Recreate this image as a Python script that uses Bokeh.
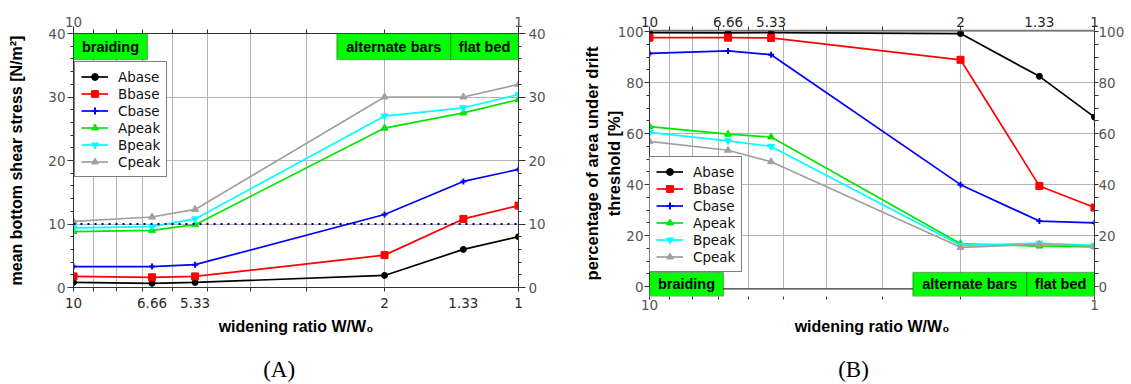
from bokeh.plotting import figure
from bokeh.models import (Range1d, LogAxis, LinearAxis, FixedTicker, Label, Span,
                          BoxAnnotation)
from bokeh.layouts import row
from bokeh.embed import file_html
from bokeh.resources import INLINE

# ---------------- data ----------------
ratio = [10, 6.66, 5.33, 2, 1.33, 1]
tick_values = [10, 6.66, 5.33, 2, 1.33, 1]
tick_labels = ["10", "6.66", "5.33", "2", "1.33", "1"]
end_ticks = [10, 1]
end_labels = ["10", "1"]
log_minor = [1, 2, 3, 4, 5, 6, 7, 8, 9, 10]
log_grid = [2, 3, 4, 5, 6, 7, 8, 9]

series = ["Abase", "Bbase", "Cbase", "Apeak", "Bpeak", "Cpeak"]

stress = {
    "Abase": [0.8, 0.65, 0.8, 1.9, 6.0, 8.0],
    "Bbase": [1.75, 1.6, 1.75, 5.1, 10.8, 12.9],
    "Cbase": [3.3, 3.3, 3.6, 11.5, 16.7, 18.6],
    "Apeak": [8.8, 9.0, 9.9, 25.1, 27.5, 29.6],
    "Bpeak": [9.4, 9.6, 10.8, 27.0, 28.3, 30.4],
    "Cpeak": [10.4, 11.1, 12.3, 30.0, 30.0, 32.0],
}
threshold_stress = 10

area = {
    "Abase": [99.7, 99.6, 99.7, 99.3, 82.5, 66.5],
    "Bbase": [97.7, 97.7, 97.6, 89.0, 39.5, 31.0],
    "Cbase": [91.5, 92.5, 91.0, 40.0, 25.7, 25.0],
    "Apeak": [62.8, 59.8, 58.7, 16.8, 15.9, 15.6],
    "Bpeak": [60.5, 57.2, 55.0, 16.2, 17.0, 16.2],
    "Cpeak": [57.0, 53.5, 49.0, 15.4, 16.6, 15.8],
}

regime_names = ["braiding", "alternate bars", "flat bed"]
regime_start = [10, 2.56, 1.42]
regime_end = [6.82, 1.42, 1.0]

# panel captions and where (in W/W0) they sit under each panel
caption_text = ["(A)", "(B)"]
caption_at = [3.45, 3.48]

# ---------------- styles ----------------
colors = {"Abase": "black", "Bbase": "#ff0000", "Cbase": "#0000ff",
          "Apeak": "#00e600", "Bpeak": "#00ffff", "Cpeak": "#a0a0a0"}
markers = {"Abase": "circle", "Bbase": "square", "Cbase": "cross",
           "Apeak": "triangle", "Bpeak": "inverted_triangle", "Cpeak": "triangle"}
msize = {"Abase": 6, "Bbase": 7, "Cbase": 6, "Apeak": 7, "Bpeak": 7, "Cpeak": 7}

TICK_FONT = "DejaVu Sans"
TITLE_FONT = "Liberation Sans"
GRID_COLOR = "#b4b4b4"
AXIS_COLOR = "#333333"


def style_axis(ax, label_color, size="13.5px"):
    ax.major_label_text_font = TICK_FONT
    ax.major_label_text_font_size = size
    ax.major_label_text_color = label_color
    ax.axis_line_color = AXIS_COLOR
    ax.major_tick_line_color = AXIS_COLOR
    ax.minor_tick_line_color = AXIS_COLOR
    ax.major_tick_in = 0
    ax.minor_tick_in = 0
    ax.axis_label_text_font = TITLE_FONT
    ax.axis_label_text_font_style = "bold"
    ax.axis_label_text_color = "black"


def x_full_axis(ax, standoff):
    ax.ticker = FixedTicker(ticks=tick_values, minor_ticks=log_minor)
    ax.major_label_overrides = dict(zip(tick_values, tick_labels))
    style_axis(ax, "#2a2a2a")
    ax.major_tick_out = 0
    ax.major_tick_line_color = None
    ax.minor_tick_out = 4
    ax.major_label_standoff = standoff


def x_end_axis(ax, standoff, tick_out, minor_out):
    ax.ticker = FixedTicker(ticks=end_ticks, minor_ticks=log_minor)
    ax.major_label_overrides = dict(zip(end_ticks, end_labels))
    style_axis(ax, "#555555")
    ax.major_tick_out = tick_out
    ax.minor_tick_out = minor_out
    ax.major_label_standoff = standoff


def add_series(p, data):
    for name in series:
        p.line(ratio, data[name], line_color=colors[name], line_width=1.7,
               legend_label=name)
        kw = dict(marker=markers[name], size=msize[name], color=colors[name],
                  legend_label=name)
        if markers[name] == "cross":
            kw["line_width"] = 2
        p.scatter(ratio, data[name], **kw)


def add_regimes(p, top, bottom):
    for name, x0, x1 in zip(regime_names, regime_start, regime_end):
        p.add_layout(BoxAnnotation(left=x0, right=x1, top=top, bottom=bottom,
                                   fill_color="#00ff00", fill_alpha=1.0,
                                   line_color="black", line_width=1.2,
                                   level="overlay"))
        p.add_layout(Label(x=(x0 * x1) ** 0.5, y=(top + bottom) / 2, text=name,
                           level="overlay",
                           text_align="center", text_baseline="middle",
                           text_font=TITLE_FONT, text_font_style="bold",
                           text_font_size="14.5px", text_color="black"))


def style_legend(p, loc):
    lg = p.legend[0]
    lg.location = loc
    lg.label_text_font = TICK_FONT
    lg.label_text_font_size = "13.5px"
    lg.label_text_color = "#111111"
    lg.glyph_width = 27
    lg.glyph_height = 17
    lg.label_height = 17
    lg.label_standoff = 10
    lg.spacing = 0
    lg.padding = 6
    lg.margin = 0
    lg.border_line_color = "black"
    lg.border_line_width = 1.2
    lg.background_fill_alpha = 1.0


def grids(p, yticks):
    p.xgrid[0].ticker = FixedTicker(ticks=log_grid)
    p.ygrid[0].ticker = FixedTicker(ticks=yticks)
    for g in (p.xgrid[0], p.ygrid[0]):
        g.grid_line_color = GRID_COLOR
        g.grid_line_width = 1


def caption(p, idx, standoff):
    cap = LogAxis(ticker=FixedTicker(ticks=[caption_at[idx]], minor_ticks=[]),
                  major_label_overrides={caption_at[idx]: caption_text[idx]})
    cap.axis_line_color = None
    cap.major_tick_line_color = None
    cap.minor_tick_line_color = None
    cap.major_tick_out = 0
    cap.minor_tick_out = 0
    cap.major_label_standoff = standoff
    cap.major_label_text_font = "Liberation Serif"
    cap.major_label_text_font_size = "23px"
    cap.major_label_text_color = "black"
    p.add_layout(cap, "below")


# ================= Panel A =================
pA = figure(width=570, height=384, x_axis_type="log", x_range=Range1d(10, 1),
            y_range=Range1d(0, 40), min_border_left=73, min_border_right=52,
            min_border_top=33, min_border_bottom=97, frame_align=False,
            output_backend="svg", toolbar_location=None)
pA.outline_line_color = AXIS_COLOR
grids(pA, [10, 20, 30])

yA_major = [0, 10, 20, 30, 40]
yA_minor = [v for v in range(0, 41, 2) if v % 10]

ax = pA.yaxis[0]
ax.ticker = FixedTicker(ticks=yA_major, minor_ticks=yA_minor)
style_axis(ax, "#555555")
ax.major_tick_out = 6
ax.minor_tick_out = 3
ax.major_label_standoff = 2
ax.axis_label = "mean bottom shear stress [N/m²]"
ax.axis_label_text_font_size = "16px"
ax.axis_label_standoff = 20

rA = LinearAxis(ticker=FixedTicker(ticks=yA_major, minor_ticks=yA_minor))
style_axis(rA, "#555555")
rA.major_tick_out = 7
rA.minor_tick_out = 3
rA.major_label_standoff = 3
pA.add_layout(rA, "right")

bx = pA.xaxis[0]
x_full_axis(bx, 6)
bx.axis_label = "widening ratio W/W₀"
bx.axis_label_text_font_size = "16px"
bx.axis_label_standoff = 7

tA = LogAxis()
x_end_axis(tA, 0, 7, 4)
pA.add_layout(tA, "above")

add_series(pA, stress)
pA.add_layout(Span(location=threshold_stress, dimension="width",
                   line_color="#000080", line_width=2.2, line_dash="2 5"))
add_regimes(pA, 40, 35.9)
style_legend(pA, (1, 110))
caption(pA, 0, 19)

# ================= Panel B =================
pB = figure(width=561, height=384, x_axis_type="log", x_range=Range1d(10, 1),
            y_range=Range1d(-3.9, 100.5), min_border_left=79, min_border_right=37,
            min_border_top=30, min_border_bottom=87, frame_align=False,
            output_backend="svg", toolbar_location=None)
pB.outline_line_color = None
grids(pB, [20, 40, 60, 80, 100])

yB_major = [0, 20, 40, 60, 80, 100]
yB_minor = [v for v in range(0, 101, 5) if v % 20]

ax = pB.yaxis[0]
ax.ticker = FixedTicker(ticks=yB_major, minor_ticks=yB_minor)
style_axis(ax, "#555555")
ax.major_tick_out = 5
ax.minor_tick_out = 3
ax.major_label_standoff = 1
ax.axis_label = "percentage of area under drift\nthreshold [%]"
ax.axis_label_text_font_size = "16.5px"
ax.axis_label_standoff = -8

rB = LinearAxis(ticker=FixedTicker(ticks=yB_major, minor_ticks=yB_minor))
style_axis(rB, "#555555")
rB.major_tick_out = 4
rB.minor_tick_out = 4
rB.major_label_standoff = 0
pB.add_layout(rB, "right")

bxB = pB.xaxis[0]
x_end_axis(bxB, 0, 0, 3)
bxB.axis_line_color = None
bxB.axis_label = "widening ratio W/W₀"
bxB.axis_label_text_font_size = "16px"
bxB.axis_label_standoff = 5

tB = LogAxis()
x_full_axis(tB, 0)
tB.axis_line_color = "#777777"
tB.axis_line_width = 1.5
pB.add_layout(tB, "above")

add_series(pB, area)
# white strip below the drawn x axis line, then the axis line itself at y = -0.9
pB.add_layout(BoxAnnotation(bottom=-3.9, top=-0.9, fill_color="white",
                            fill_alpha=1.0, line_color=None))
pB.add_layout(Span(location=-0.9, dimension="width", line_color=AXIS_COLOR,
                   line_width=1.2))
add_regimes(pB, 5.55, -3.9)
style_legend(pB, (0, 24))
caption(pB, 1, 19)

layout = row(pA, pB)
open("out.html", "w").write(file_html(layout, INLINE))
